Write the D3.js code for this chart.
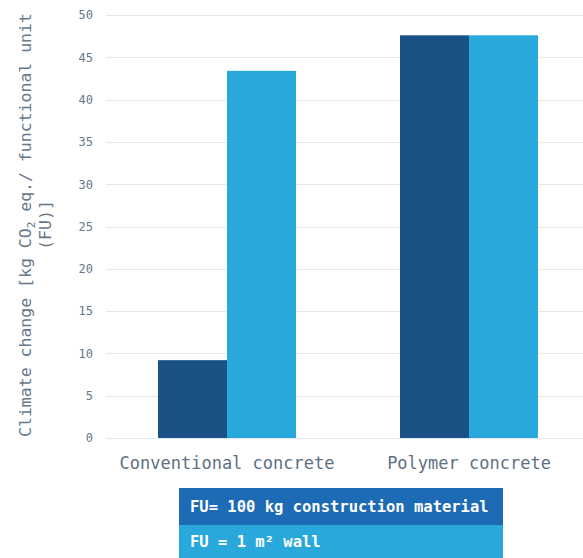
<!DOCTYPE html>
<html>
<head>
<meta charset="utf-8">
<script src="https://cdn.jsdelivr.net/npm/d3@7"></script>
<style>
  body { margin: 0; background: #fff; }
  svg { display: block; font-family: "DejaVu Sans Mono", "Liberation Mono", monospace; }
  .axis text { font-family: "DejaVu Sans Mono", "Liberation Mono", monospace; }
  .axis--y text { fill: #66788a; font-size: 12px; }
  .axis--x text { fill: #5d7083; font-size: 17px; }
  .grid line { stroke: #e3e9ee; stroke-width: 1px; }
  .ytitle { fill: #66788a; font-size: 16.5px; }
  .legend text { fill: #fff; font-size: 15.5px; font-weight: bold; }
</style>
</head>
<body>
<div id="graph"></div>
<script>
var categories = ['Conventional concrete', 'Polymer concrete'];
var series = ['FU= 100 kg construction material', 'FU = 1 m² wall'];
var valuesMass = [9.2, 47.6];
var valuesWall = [43.4, 47.6];
var yTicks = [0, 5, 10, 15, 20, 25, 30, 35, 40, 45, 50];

var barColors = ['#1b5286', '#29a8dc'];
var legendColors = ['#1e6bb5', '#29a8dc'];

var width = 583, height = 558;

var svg = d3.select('#graph').append('svg')
  .attr('width', width)
  .attr('height', height);

var scaley = d3.scaleLinear().domain([0, 50]).range([438, 15]);
var scalex = d3.scaleBand().domain(categories).range([106, 590]).padding(0);
var groupWidth = 138;
var scalex1 = d3.scaleBand().domain(series).range([0, groupWidth]);

// grid
svg.append('g').attr('class', 'grid')
  .selectAll('line').data(yTicks).enter().append('line')
  .attr('x1', 106).attr('x2', width)
  .attr('y1', function(d){ return Math.round(scaley(d)) + 0.5; })
  .attr('y2', function(d){ return Math.round(scaley(d)) + 0.5; });

// y axis labels
var yAxis = d3.axisLeft(scaley).tickValues(yTicks).tickSize(0).tickPadding(0);
svg.append('g')
  .attr('class', 'axis axis--y')
  .attr('transform', 'translate(93,0)')
  .call(yAxis)
  .attr('font-family', null)
  .attr('font-size', null)
  .call(function(g){ g.select('.domain').remove(); });

// bars
var rows = categories.map(function(c, i){
  return {cat: c, vals: [valuesMass[i], valuesWall[i]]};
});
var groups = svg.append('g').selectAll('g').data(rows).enter().append('g')
  .attr('transform', function(d){
    return 'translate(' + (scalex(d.cat) + (scalex.bandwidth() - groupWidth) / 2) + ',0)';
  });
groups.selectAll('rect').data(function(d){
    return d.vals.map(function(v, j){ return {s: series[j], v: v, j: j}; });
  }).enter().append('rect')
  .attr('x', function(d){ return scalex1(d.s); })
  .attr('width', scalex1.bandwidth())
  .attr('y', function(d){ return scaley(d.v); })
  .attr('height', function(d){ return scaley(0) - scaley(d.v); })
  .style('fill', function(d){ return barColors[d.j]; });

// x axis labels
var xAxis = d3.axisBottom(scalex).tickSize(0).tickPadding(0);
svg.append('g')
  .attr('class', 'axis axis--x')
  .attr('transform', 'translate(0,457)')
  .call(xAxis)
  .attr('font-family', null)
  .attr('font-size', null)
  .call(function(g){ g.select('.domain').remove(); });

// y title
var yt = svg.append('text').attr('class', 'ytitle')
  .attr('transform', 'translate(31,225) rotate(-90)')
  .attr('text-anchor', 'middle');
yt.append('tspan').text('Climate change [kg CO');
yt.append('tspan').attr('dy', 4).style('font-size', '11px').text('2');
yt.append('tspan').attr('dy', -4).text(' eq./ functional unit');
svg.append('text').attr('class', 'ytitle')
  .attr('transform', 'translate(51,225) rotate(-90)')
  .attr('text-anchor', 'middle')
  .text('(FU)]');

// legend
var legend = svg.append('g').attr('class', 'legend');
var legendRows = [{y: 488, h: 37}, {y: 525, h: 33}];
legend.selectAll('rect').data(series).enter().append('rect')
  .attr('x', 179).attr('width', 324)
  .attr('y', function(d, i){ return legendRows[i].y; })
  .attr('height', function(d, i){ return legendRows[i].h; })
  .style('fill', function(d, i){ return legendColors[i]; });
legend.selectAll('text').data(series).enter().append('text')
  .attr('x', 190)
  .attr('y', function(d, i){ return legendRows[i].y + legendRows[i].h / 2 + 5; })
  .text(function(d){ return d; });
</script>
</body>
</html>
